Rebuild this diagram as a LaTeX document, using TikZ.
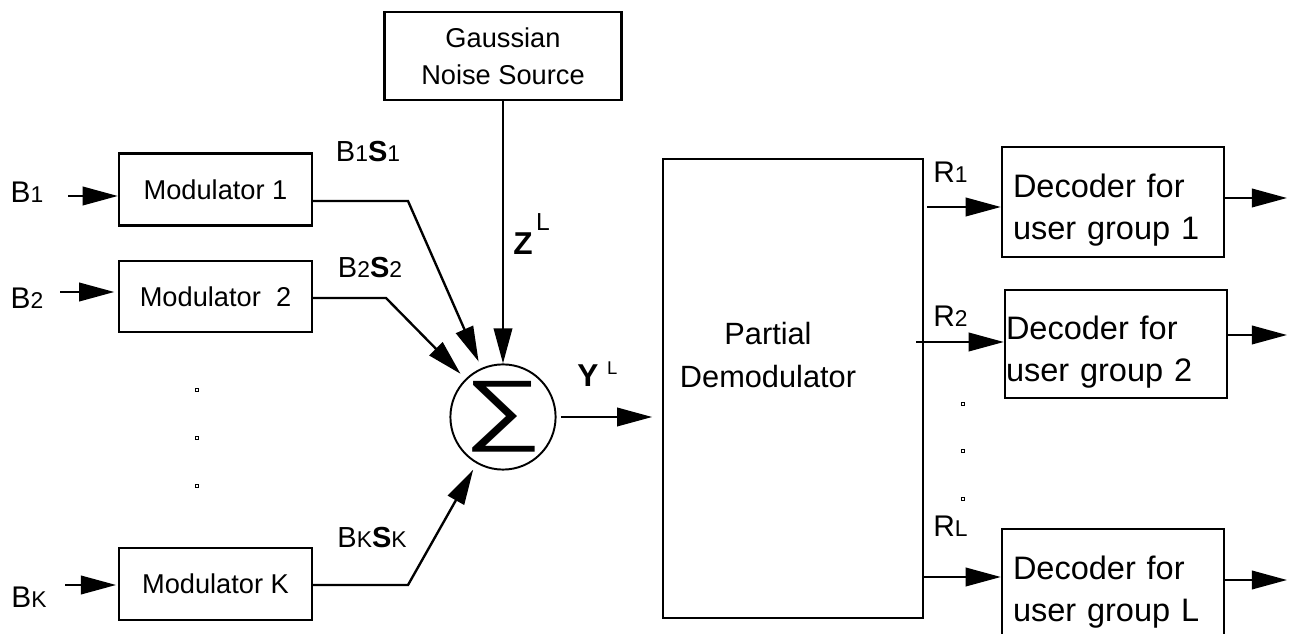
\documentclass[tikz,border=0pt]{standalone}
\usepackage{fontspec}
\setmainfont{Liberation Sans}
\usetikzlibrary{arrows.meta}

\tikzset{
  blk/.style={draw, line width=1.35pt, inner sep=0pt},
  modbox/.style={blk, minimum width=3.86cm, minimum height=1.44cm, font=\fontsize{15.5}{18}\selectfont},
  decbox/.style={blk, minimum width=4.44cm, minimum height=2.2cm, text width=4cm, align=left, font=\fontsize{18.5}{24}\selectfont},
  arr/.style={-{Triangle[length=20pt,width=10.5pt]}, line width=1.35pt},
  lbl/.style={inner sep=0pt, font=\fontsize{17}{19}\selectfont},
  sig/.style={inner sep=0pt, font=\fontsize{16.5}{18}\selectfont},
}
\newcommand{\subsz}[1]{{\fontsize{13}{14}\selectfont #1}}
\newcommand{\sigsz}[1]{{\fontsize{13}{14}\selectfont #1}}

\begin{document}
\begin{tikzpicture}[x=0.02cm,y=-0.02cm]
\useasboundingbox (0,0) rectangle (1299,634);

% blocks
\node[blk, minimum width=4.74cm, minimum height=1.76cm, align=center, font=\fontsize{15.5}{21}\selectfont] (noise) at (503,56) {Gaussian\\Noise Source};
\node[modbox] (mod1) at (215.5,189.5) {Modulator 1};
\node[modbox, minimum height=1.42cm] (mod2) at (215.5,296.5) {Modulator\ \ 2};
\node[modbox] (modK) at (215.5,584) {Modulator K};
\node[draw, circle, line width=1.1pt, minimum size=1.92cm, inner sep=0pt, font=\fontsize{40}{40}\selectfont] (sum) at (503,417) {\scalebox{1.55}[1.12]{∑}};
\node[blk, minimum width=5.2cm, minimum height=9.18cm,
  label={[font=\fontsize{17.5}{25}\selectfont, align=center, xshift=-0.5cm, yshift=0.67cm]center:Partial\\Demodulator}] (demod) at (793,388.5) {};
\node[decbox] (dec1) at (1113,202) {\rule{0pt}{23pt}Decoder for\\user group 1};
\node[decbox, minimum height=2.16cm, text width=4.4cm] (dec2) at (1116,344) {\rule{0pt}{23pt}Decoder for\\user group 2};
\node[decbox] (decL) at (1113,584) {\rule{0pt}{23pt}Decoder for\\user group L};

% labels
\node[lbl] (b1) at (27,192) {B\subsz{1}};
\node[lbl] (b2) at (27,298) {B\subsz{2}};
\node[lbl] (bK) at (29,597) {B\subsz{K}};
\node[sig] (s1) at (368,152) {B\sigsz{1}\textbf{S}\sigsz{1}};
\node[sig] (s2) at (370,268) {B\sigsz{2}\textbf{S}\sigsz{2}};
\node[sig] (sK) at (372,538) {B\sigsz{K}\textbf{S}\sigsz{K}};
\node[inner sep=0pt, anchor=base west, font=\fontsize{18}{20}\selectfont] (zl) at (513,255)
  {\textbf{Z}\hspace{2pt}\raisebox{14pt}{\fontsize{14}{15}\selectfont L}};
\node[inner sep=0pt, anchor=base west, font=\fontsize{18}{20}\selectfont] (yl) at (577,387)
  {\textbf{Y}\hspace{5pt}\raisebox{7pt}{\fontsize{10.5}{11}\selectfont L}};
\node[lbl, anchor=base west] (r1) at (933,183) {R\subsz{1}};
\node[lbl, anchor=base west] (r2) at (933,327) {R\subsz{2}};
\node[lbl, anchor=base west] (rL) at (933,537) {R\subsz{L}};

% inputs
\coordinate (i1) at (68,196);
\coordinate (i2) at (60,292);
\coordinate (iK) at (65,585);
\draw[arr] (i1) -- (i1 -| mod1.west);
\draw[arr, shorten >=2pt] (i2) -- (i2 -| mod2.west);
\draw[arr, shorten >=1pt] (iK) -- (iK -| modK.west);

% modulators to sum
\coordinate (k1) at (408,201);
\coordinate (k2) at (386,298);
\coordinate (kK) at (408,585);
\draw[arr, shorten >=4pt] (mod1.east |- k1) -- (k1) -- (sum);
\draw[arr, shorten >=4pt] (mod2.east |- k2) -- (k2) -- (sum);
\draw[arr, shorten >=4pt] (modK.east |- kK) -- (kK) -- (sum);
\draw[arr] (noise.south -| sum) -- (sum.north);
\draw[arr, shorten <=2.5pt, shorten >=5.5pt] (sum.east) -- (sum.east -| demod.west);

% demodulator outputs
\coordinate (d1) at (927,207);
\coordinate (d2) at (916,342);
\coordinate (dL) at (923,577);
\draw[arr] (d1) -- (d1 -| dec1.west);
\draw[arr] (d2) -- (d2 -| dec2.west);
\draw[arr] (dL) -- (dL -| decL.west);

% decoder outputs
\coordinate (o1) at (1287,198);
\coordinate (o2) at (1287,335);
\coordinate (oL) at (1287,580);
\draw[arr] (o1 -| dec1.east) -- (o1);
\draw[arr] (o2 -| dec2.east) -- (o2);
\draw[arr] (oL -| decL.east) -- (oL);

% dots
\foreach \y in {390,438,486}
  \draw[line width=0.4pt] (195.5,\y-1.5) rectangle ++(3,3);
\foreach \y in {404,451,499}
  \draw[line width=0.4pt] (961.5,\y-1.5) rectangle ++(3,3);
\end{tikzpicture}
\end{document}
